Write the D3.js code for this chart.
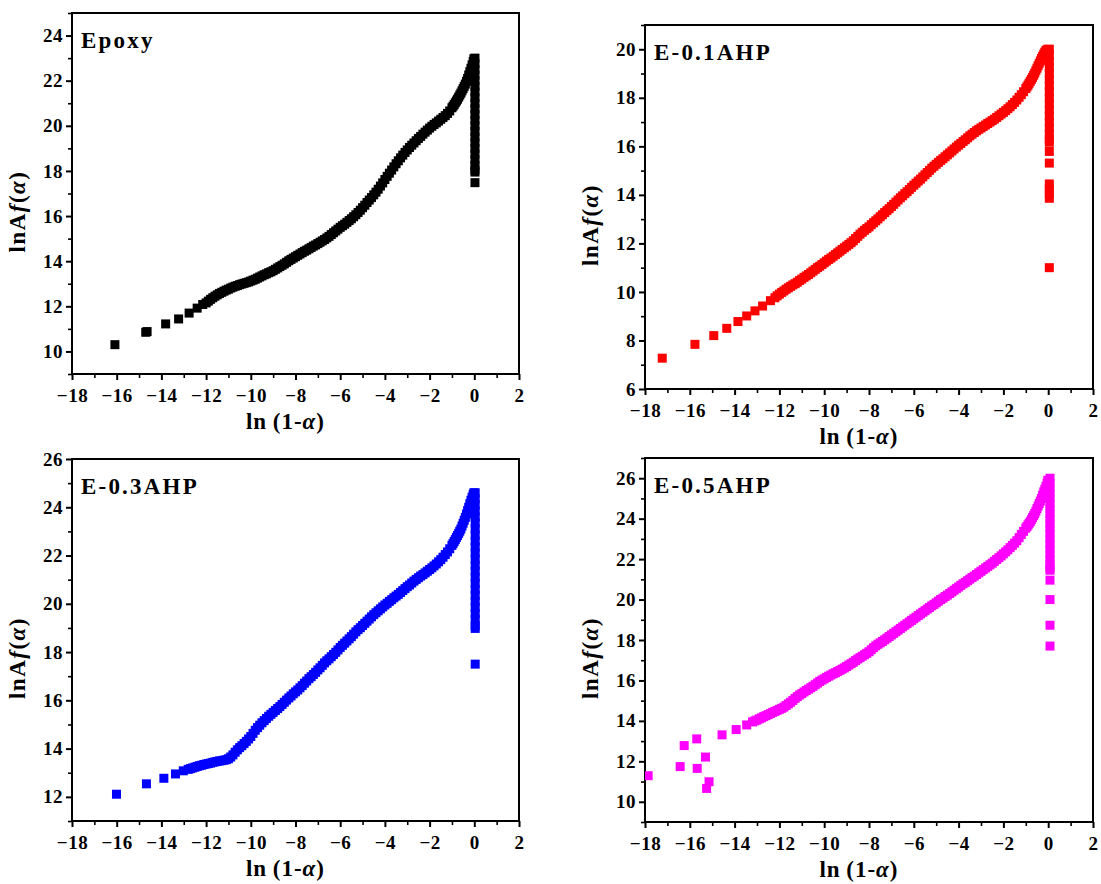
<!DOCTYPE html>
<html><head><meta charset="utf-8">
<script src="https://cdn.jsdelivr.net/npm/d3@7/dist/d3.min.js"></script>
<style>
html,body{margin:0;padding:0;background:#fff;}
svg{display:block;}
text{font-family:"Liberation Serif","Times New Roman",Times,"DejaVu Serif",serif;font-weight:bold;fill:#000;}
</style></head>
<body>
<svg id="chart" width="1101" height="884"></svg>
<script>
// ---------------- DATA ----------------
const sampleNames = ["Epoxy", "E-0.1AHP", "E-0.3AHP", "E-0.5AHP"];
const sampleColors = ["#000000", "#ff0000", "#0000ff", "#ff00ff"];
const yDomains = [[9, 25], [6, 21], [11, 26], [9, 27]];
const yTickValues = [
  [10, 12, 14, 16, 18, 20, 22, 24],
  [6, 8, 10, 12, 14, 16, 18, 20],
  [12, 14, 16, 18, 20, 22, 24, 26],
  [10, 12, 14, 16, 18, 20, 22, 24, 26]
];
const xDomain = [-18, 2];
const xTickValues = [-18, -16, -14, -12, -10, -8, -6, -4, -2, 0, 2];

// Epoxy: [ln(1-a), lnAf(a)]
const epoxyPts = [
 [-16.08,10.30],[-14.70,10.85],[-14.64,10.88],[-13.81,11.22],[-13.23,11.44],[-12.76,11.70],[-12.40,11.92],[-12.15,12.08],
 [-12.0,12.15],[-11.9,12.23],[-11.8,12.31],[-11.7,12.38],[-11.6,12.45],[-11.5,12.51],[-11.4,12.57],[-11.3,12.62],
 [-11.2,12.67],[-11.1,12.72],[-11.0,12.76],[-10.9,12.81],[-10.8,12.85],[-10.7,12.89],[-10.6,12.92],[-10.5,12.96],
 [-10.4,12.99],[-10.3,13.02],[-10.2,13.05],[-10.1,13.08],[-10.0,13.12],[-9.9,13.16],[-9.8,13.20],[-9.7,13.25],
 [-9.6,13.30],[-9.5,13.35],[-9.4,13.40],[-9.3,13.44],[-9.2,13.49],[-9.1,13.53],[-9.0,13.58],[-8.9,13.64],
 [-8.8,13.70],[-8.7,13.76],[-8.6,13.82],[-8.5,13.88],[-8.4,13.95],[-8.3,14.02],[-8.2,14.08],[-8.1,14.14],
 [-8.0,14.20],[-7.9,14.26],[-7.8,14.32],[-7.7,14.38],[-7.6,14.44],[-7.5,14.49],[-7.4,14.55],[-7.3,14.61],
 [-7.2,14.67],[-7.1,14.72],[-7.0,14.78],[-6.9,14.84],[-6.8,14.90],[-6.7,14.96],[-6.6,15.03],[-6.5,15.10],
 [-6.4,15.18],[-6.3,15.26],[-6.2,15.34],[-6.1,15.42],[-6.0,15.50],[-5.9,15.57],[-5.8,15.64],[-5.7,15.72],
 [-5.6,15.80],[-5.5,15.88],[-5.4,15.97],[-5.3,16.06],[-5.2,16.16],[-5.1,16.26],[-5.0,16.37],[-4.9,16.48],
 [-4.8,16.60],[-4.7,16.71],[-4.6,16.82],[-4.5,16.94],[-4.4,17.06],[-4.3,17.19],[-4.2,17.33],[-4.1,17.47],
 [-4.0,17.62],[-3.9,17.76],[-3.8,17.90],[-3.7,18.04],[-3.6,18.18],[-3.5,18.32],[-3.4,18.45],[-3.3,18.58],
 [-3.2,18.70],[-3.1,18.82],[-3.0,18.93],[-2.9,19.04],[-2.8,19.14],[-2.7,19.24],[-2.6,19.34],[-2.5,19.44],
 [-2.4,19.53],[-2.3,19.63],[-2.2,19.72],[-2.1,19.81],[-2.0,19.90],[-1.9,19.98],[-1.8,20.06],[-1.7,20.13],
 [-1.6,20.21],[-1.5,20.29],[-1.4,20.37],[-1.3,20.45],[-1.2,20.55],[-1.1,20.66],[-1.0,20.80],[-0.95,20.87],
 [-0.9,20.94],[-0.85,21.02],[-0.8,21.10],[-0.75,21.18],[-0.7,21.27],[-0.65,21.36],[-0.6,21.45],[-0.55,21.55],
 [-0.5,21.65],[-0.45,21.75],[-0.4,21.85],[-0.35,21.97],[-0.3,22.10],[-0.25,22.25],[-0.2,22.40],[-0.15,22.55],
 [-0.1,22.70],[-0.05,22.85],[-0.02,22.97],
 [0.03,23.0],[0.03,22.75],[0.03,22.5],[0.03,22.25],[0.03,22.0],[0.03,21.75],[0.03,21.5],[0.03,21.25],
 [0.03,21.0],[0.03,20.75],[0.03,20.5],[0.03,20.25],[0.03,20.0],[0.03,19.75],[0.03,19.5],[0.03,19.25],
 [0.03,19.0],[0.03,18.75],[0.03,18.5],[0.03,18.25],[0.03,18.05],[0.03,17.95],[0.03,17.48]
];

const ahp01Pts = [
 [-17.23,7.27],[-15.77,7.84],[-14.93,8.20],[-14.35,8.50],[-13.85,8.78],[-13.46,9.01],[-13.09,9.22],[-12.75,9.42],[-12.40,9.64],
 [-12.2,9.76],[-12.1,9.84],[-12.0,9.91],[-11.9,9.98],[-11.8,10.04],[-11.7,10.11],[-11.6,10.17],[-11.5,10.23],
 [-11.4,10.29],[-11.3,10.34],[-11.2,10.40],[-11.1,10.47],[-11.0,10.53],[-10.9,10.60],[-10.8,10.66],[-10.7,10.72],
 [-10.6,10.79],[-10.5,10.86],[-10.4,10.93],[-10.3,11.00],[-10.2,11.06],[-10.1,11.13],[-10.0,11.20],[-9.9,11.27],
 [-9.8,11.34],[-9.7,11.40],[-9.6,11.47],[-9.5,11.54],[-9.4,11.61],[-9.3,11.68],[-9.2,11.75],[-9.1,11.82],
 [-9.0,11.89],[-8.9,11.96],[-8.8,12.03],[-8.7,12.11],[-8.6,12.20],[-8.5,12.29],[-8.4,12.38],[-8.3,12.46],
 [-8.2,12.54],[-8.1,12.61],[-8.0,12.68],[-7.9,12.77],[-7.8,12.85],[-7.7,12.93],[-7.6,13.01],[-7.5,13.10],
 [-7.4,13.18],[-7.3,13.27],[-7.2,13.35],[-7.1,13.43],[-7.0,13.52],[-6.9,13.61],[-6.8,13.70],[-6.7,13.79],
 [-6.6,13.88],[-6.5,13.96],[-6.4,14.05],[-6.3,14.13],[-6.2,14.22],[-6.1,14.31],[-6.0,14.40],[-5.9,14.48],
 [-5.8,14.57],[-5.7,14.65],[-5.6,14.74],[-5.5,14.83],[-5.4,14.92],[-5.3,15.01],[-5.2,15.10],[-5.1,15.18],
 [-5.0,15.26],[-4.9,15.34],[-4.8,15.42],[-4.7,15.49],[-4.6,15.57],[-4.5,15.65],[-4.4,15.73],[-4.3,15.81],
 [-4.2,15.89],[-4.1,15.97],[-4.0,16.05],[-3.9,16.12],[-3.8,16.20],[-3.7,16.27],[-3.6,16.35],[-3.5,16.43],
 [-3.4,16.50],[-3.3,16.57],[-3.2,16.64],[-3.1,16.70],[-3.0,16.76],[-2.9,16.82],[-2.8,16.88],[-2.7,16.94],
 [-2.6,17.00],[-2.5,17.06],[-2.4,17.12],[-2.3,17.19],[-2.2,17.26],[-2.1,17.33],[-2.0,17.40],[-1.9,17.47],
 [-1.8,17.55],[-1.7,17.63],[-1.6,17.72],[-1.5,17.81],[-1.4,17.91],[-1.3,18.02],[-1.2,18.13],[-1.1,18.25],
 [-1.0,18.38],[-0.95,18.45],[-0.9,18.52],[-0.85,18.60],[-0.8,18.68],[-0.75,18.76],[-0.7,18.84],[-0.65,18.93],
 [-0.6,19.02],[-0.55,19.12],[-0.5,19.22],[-0.45,19.32],[-0.4,19.42],[-0.35,19.52],[-0.3,19.62],[-0.25,19.71],
 [-0.2,19.80],[-0.15,19.88],[-0.1,19.95],[-0.05,19.98],[-0.02,20.0],
 [0.05,20.0],[0.05,19.75],[0.05,19.5],[0.05,19.25],[0.05,19.0],[0.05,18.75],[0.05,18.5],[0.05,18.25],
 [0.05,18.0],[0.05,17.75],[0.05,17.5],[0.05,17.25],[0.05,17.0],[0.05,16.75],[0.05,16.5],[0.05,16.3],[0.05,16.17],
 [0.05,15.79],[0.05,15.31],[0.05,14.45],[0.05,14.25],[0.05,14.05],[0.05,13.86],[0.05,11.0]
];

const ahp03Pts = [
 [-16.01,12.11],[-14.67,12.54],[-13.89,12.77],[-13.37,12.95],[-13.02,13.08],
 [-12.8,13.14],[-12.7,13.17],[-12.6,13.20],[-12.5,13.23],[-12.4,13.26],[-12.3,13.29],[-12.2,13.31],[-12.1,13.34],
 [-12.0,13.36],[-11.9,13.38],[-11.8,13.40],[-11.7,13.43],[-11.6,13.45],[-11.5,13.47],[-11.4,13.49],[-11.3,13.50],
 [-11.2,13.52],[-11.1,13.54],[-11.0,13.58],[-10.9,13.65],[-10.8,13.74],[-10.7,13.85],[-10.6,13.95],[-10.5,14.04],
 [-10.4,14.12],[-10.3,14.21],[-10.2,14.30],[-10.1,14.40],[-10.0,14.50],[-9.9,14.63],[-9.8,14.76],[-9.7,14.87],
 [-9.6,14.97],[-9.5,15.07],[-9.4,15.16],[-9.3,15.25],[-9.2,15.34],[-9.1,15.42],[-9.0,15.50],[-8.9,15.58],
 [-8.8,15.66],[-8.7,15.74],[-8.6,15.83],[-8.5,15.92],[-8.4,16.01],[-8.3,16.10],[-8.2,16.18],[-8.1,16.27],
 [-8.0,16.35],[-7.9,16.43],[-7.8,16.52],[-7.7,16.61],[-7.6,16.71],[-7.5,16.80],[-7.4,16.90],[-7.3,16.98],
 [-7.2,17.07],[-7.1,17.16],[-7.0,17.26],[-6.9,17.35],[-6.8,17.45],[-6.7,17.55],[-6.6,17.64],[-6.5,17.72],
 [-6.4,17.81],[-6.3,17.90],[-6.2,17.99],[-6.1,18.09],[-6.0,18.19],[-5.9,18.28],[-5.8,18.37],[-5.7,18.46],
 [-5.6,18.55],[-5.5,18.64],[-5.4,18.74],[-5.3,18.84],[-5.2,18.93],[-5.1,19.01],[-5.0,19.10],[-4.9,19.19],
 [-4.8,19.28],[-4.7,19.37],[-4.6,19.46],[-4.5,19.55],[-4.4,19.63],[-4.3,19.71],[-4.2,19.79],[-4.1,19.87],
 [-4.0,19.95],[-3.9,20.02],[-3.8,20.10],[-3.7,20.17],[-3.6,20.25],[-3.5,20.32],[-3.4,20.39],[-3.3,20.47],
 [-3.2,20.55],[-3.1,20.63],[-3.0,20.71],[-2.9,20.78],[-2.8,20.86],[-2.7,20.94],[-2.6,21.01],[-2.5,21.08],
 [-2.4,21.15],[-2.3,21.21],[-2.2,21.28],[-2.1,21.35],[-2.0,21.42],[-1.9,21.49],[-1.8,21.57],[-1.7,21.65],
 [-1.6,21.74],[-1.5,21.83],[-1.4,21.93],[-1.3,22.04],[-1.2,22.15],[-1.1,22.28],[-1.0,22.42],[-0.95,22.50],
 [-0.9,22.58],[-0.85,22.66],[-0.8,22.75],[-0.75,22.83],[-0.7,22.92],[-0.65,23.01],[-0.6,23.10],[-0.55,23.22],
 [-0.5,23.34],[-0.45,23.46],[-0.4,23.58],[-0.35,23.72],[-0.3,23.86],[-0.25,24.00],[-0.2,24.15],[-0.15,24.29],
 [-0.1,24.42],[-0.05,24.53],[-0.02,24.6],
 [0.04,24.6],[0.04,24.35],[0.04,24.1],[0.04,23.85],[0.04,23.6],[0.04,23.35],[0.04,23.1],[0.04,22.85],
 [0.04,22.6],[0.04,22.35],[0.04,22.1],[0.04,21.85],[0.04,21.6],[0.04,21.35],[0.04,21.1],[0.04,20.85],
 [0.04,20.6],[0.04,20.35],[0.04,20.1],[0.04,19.85],[0.04,19.6],[0.04,19.35],[0.04,19.1],[0.04,18.98],[0.04,17.5]
];

const ahp05Pts = [
 [-17.86,11.29],[-16.43,11.74],[-16.25,12.78],[-15.69,13.11],[-15.67,11.65],[-15.30,12.21],[-15.14,10.99],[-15.25,10.66],
 [-14.56,13.31],[-13.93,13.57],[-13.46,13.80],
 [-13.2,13.95],[-13.1,14.00],[-13.0,14.04],[-12.9,14.10],[-12.8,14.15],[-12.7,14.21],[-12.6,14.26],[-12.5,14.31],
 [-12.4,14.36],[-12.3,14.42],[-12.2,14.47],[-12.1,14.52],[-12.0,14.57],[-11.9,14.62],[-11.8,14.68],[-11.7,14.76],
 [-11.6,14.84],[-11.5,14.92],[-11.4,15.01],[-11.3,15.11],[-11.2,15.20],[-11.1,15.28],[-11.0,15.35],[-10.9,15.43],
 [-10.8,15.50],[-10.7,15.57],[-10.6,15.64],[-10.5,15.71],[-10.4,15.79],[-10.3,15.87],[-10.2,15.95],[-10.1,16.02],
 [-10.0,16.08],[-9.9,16.15],[-9.8,16.21],[-9.7,16.27],[-9.6,16.33],[-9.5,16.38],[-9.4,16.44],[-9.3,16.50],
 [-9.2,16.56],[-9.1,16.62],[-9.0,16.69],[-8.9,16.76],[-8.8,16.83],[-8.7,16.90],[-8.6,16.98],[-8.5,17.06],
 [-8.4,17.13],[-8.3,17.20],[-8.2,17.27],[-8.1,17.34],[-8.0,17.42],[-7.9,17.52],[-7.8,17.62],[-7.7,17.71],
 [-7.6,17.79],[-7.5,17.86],[-7.4,17.93],[-7.3,18.01],[-7.2,18.09],[-7.1,18.17],[-7.0,18.25],[-6.9,18.33],
 [-6.8,18.41],[-6.7,18.49],[-6.6,18.57],[-6.5,18.65],[-6.4,18.73],[-6.3,18.81],[-6.2,18.89],[-6.1,18.97],
 [-6.0,19.05],[-5.9,19.13],[-5.8,19.21],[-5.7,19.29],[-5.6,19.37],[-5.5,19.45],[-5.4,19.53],[-5.3,19.61],
 [-5.2,19.69],[-5.1,19.76],[-5.0,19.84],[-4.9,19.92],[-4.8,20.00],[-4.7,20.07],[-4.6,20.15],[-4.5,20.22],
 [-4.4,20.30],[-4.3,20.38],[-4.2,20.46],[-4.1,20.54],[-4.0,20.62],[-3.9,20.70],[-3.8,20.78],[-3.7,20.85],
 [-3.6,20.93],[-3.5,21.01],[-3.4,21.09],[-3.3,21.16],[-3.2,21.24],[-3.1,21.32],[-3.0,21.40],[-2.9,21.48],
 [-2.8,21.56],[-2.7,21.64],[-2.6,21.72],[-2.5,21.80],[-2.4,21.89],[-2.3,21.98],[-2.2,22.07],[-2.1,22.16],
 [-2.0,22.26],[-1.9,22.36],[-1.8,22.46],[-1.7,22.57],[-1.6,22.68],[-1.5,22.79],[-1.4,22.91],[-1.3,23.06],
 [-1.2,23.22],[-1.1,23.37],[-1.0,23.53],[-0.95,23.61],[-0.9,23.69],[-0.85,23.77],[-0.8,23.85],[-0.75,23.95],
 [-0.7,24.05],[-0.65,24.15],[-0.6,24.25],[-0.55,24.37],[-0.5,24.50],[-0.45,24.62],[-0.4,24.75],[-0.35,24.87],
 [-0.3,25.0],[-0.25,25.16],[-0.2,25.32],[-0.15,25.46],[-0.1,25.6],[-0.05,25.75],[-0.02,25.9],
 [0.08,26.0],[0.08,25.75],[0.08,25.5],[0.08,25.25],[0.08,25.0],[0.08,24.75],[0.08,24.5],[0.08,24.25],
 [0.08,24.0],[0.08,23.75],[0.08,23.5],[0.08,23.25],[0.08,23.0],[0.08,22.75],[0.08,22.5],[0.08,22.25],
 [0.08,22.0],[0.08,21.75],[0.08,21.55],[0.08,21.45],[0.08,20.96],[0.08,20.0],[0.08,18.73],[0.08,17.70]
];
const seriesData = [epoxyPts, ahp01Pts, ahp03Pts, ahp05Pts];

// ---------------- LAYOUT ----------------
const boxes = [
  {left: 72, right: 519, top: 13, bottom: 374},
  {left: 645, right: 1093, top: 25, bottom: 389},
  {left: 72, right: 519, top: 459, bottom: 821},
  {left: 645, right: 1093, top: 458, bottom: 822}
];
const markerSize = 9;
const fontFam = '"Liberation Serif","Times New Roman",Times,"DejaVu Serif",serif';

const svg = d3.select("#chart");

boxes.forEach((b, i) => {
  const g = svg.append("g");
  const x = d3.scaleLinear().domain(xDomain).range([b.left, b.right]);
  const y = d3.scaleLinear().domain(yDomains[i]).range([b.bottom, b.top]);

  // minor ticks
  const xMinor = d3.range(xDomain[0] + 1, xDomain[1], 2);
  const yMinor = d3.range(Math.ceil(yDomains[i][0]), yDomains[i][1] + 0.001, 1).filter(v => v % 2 !== 0);

  const xAxisMinor = d3.axisBottom(x).tickValues(xMinor).tickSize(4).tickFormat("");
  const yAxisMinor = d3.axisLeft(y).tickValues(yMinor).tickSize(4).tickFormat("");
  g.append("g").attr("transform", `translate(0,${b.bottom})`).call(xAxisMinor)
    .call(s => s.select(".domain").remove())
    .selectAll("line").attr("stroke", "#000").attr("stroke-width", 1.6);
  g.append("g").attr("transform", `translate(${b.left},0)`).call(yAxisMinor)
    .call(s => s.select(".domain").remove())
    .selectAll("line").attr("stroke", "#000").attr("stroke-width", 1.6);

  const xAxis = d3.axisBottom(x).tickValues(xTickValues).tickSize(6).tickPadding(9).tickFormat(d3.format("d"));
  const yAxis = d3.axisLeft(y).tickValues(yTickValues[i]).tickSize(6).tickPadding(3).tickFormat(d3.format("d"));
  const gx = g.append("g").attr("transform", `translate(0,${b.bottom})`).call(xAxis);
  const gy = g.append("g").attr("transform", `translate(${b.left},0)`).call(yAxis);
  [gx, gy].forEach(ax => {
    ax.attr("font-family", fontFam);
    ax.select(".domain").remove();
    ax.selectAll("line").attr("stroke", "#000").attr("stroke-width", 2);
    ax.selectAll("text")
      .attr("font-family", fontFam)
      .attr("font-weight", "bold").attr("font-size", 19).attr("fill", "#000")
      .attr("letter-spacing", 0.5);
  });

  // frame
  g.append("rect").attr("x", b.left).attr("y", b.top)
    .attr("width", b.right - b.left).attr("height", b.bottom - b.top)
    .attr("fill", "none").attr("stroke", "#000").attr("stroke-width", 2);

  // points
  const clipId = "clip" + i;
  g.append("clipPath").attr("id", clipId).append("rect")
    .attr("x", b.left).attr("y", b.top).attr("width", b.right - b.left).attr("height", b.bottom - b.top);
  g.append("g").attr("clip-path", `url(#${clipId})`)
    .selectAll("rect").data(seriesData[i]).join("rect")
    .attr("x", d => x(d[0]) - markerSize / 2)
    .attr("y", d => y(d[1]) - markerSize / 2)
    .attr("width", markerSize).attr("height", markerSize)
    .attr("fill", sampleColors[i]);

  // panel label
  g.append("text").attr("x", b.left + 9).attr("y", b.top + 35)
    .attr("font-size", 23).attr("letter-spacing", 2.2).text(sampleNames[i]);

  // x title
  const xt = g.append("text").attr("x", (b.left + b.right) / 2 - 10).attr("y", b.bottom + 55)
    .attr("text-anchor", "middle").attr("font-size", 23).attr("letter-spacing", 1);
  xt.append("tspan").text("ln\u2009(1-");
  xt.append("tspan").attr("font-style", "italic").text("\u03b1");
  xt.append("tspan").text(")");

  // y title
  const cy = (b.top + b.bottom) / 2 + 18;
  const cx = b.left - 47;
  const yt = g.append("text").attr("transform", `translate(${cx},${cy}) rotate(-90)`)
    .attr("text-anchor", "middle").attr("font-size", 23).attr("letter-spacing", 1.5);
  yt.append("tspan").text("lnA");
  yt.append("tspan").attr("font-style", "italic").text("f");
  yt.append("tspan").text("(");
  yt.append("tspan").attr("font-style", "italic").text("\u03b1");
  yt.append("tspan").text(")");
});
</script>
</body></html>
